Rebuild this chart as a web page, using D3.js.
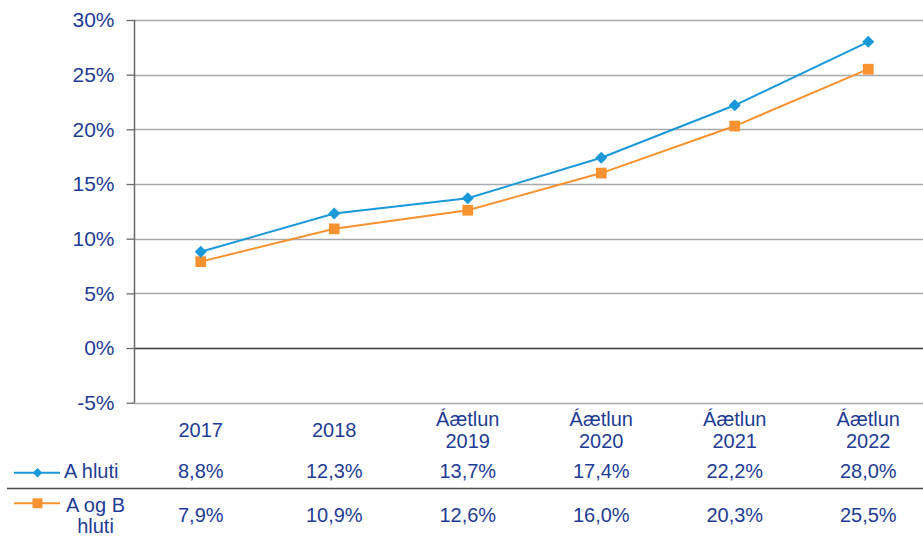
<!DOCTYPE html>
<html>
<head>
<meta charset="utf-8">
<script src="https://cdn.jsdelivr.net/npm/d3@7"></script>
<style>
  html, body { margin: 0; padding: 0; background: #ffffff; }
  svg { display: block; font-family: "Liberation Sans", Arial, sans-serif; }
</style>
</head>
<body>
<svg id="chart" width="923" height="537"></svg>
<script>
// ---- data ----
const categories = [["2017"], ["2018"], ["Áætlun", "2019"], ["Áætlun", "2020"], ["Áætlun", "2021"], ["Áætlun", "2022"]];
const seriesNames = [["A hluti"], ["A og B", "hluti"]];
const seriesA = [8.8, 12.3, 13.7, 17.4, 22.2, 28.0];
const seriesAB = [7.9, 10.9, 12.6, 16.0, 20.3, 25.5];
const labelsA = ["8,8%", "12,3%", "13,7%", "17,4%", "22,2%", "28,0%"];
const labelsAB = ["7,9%", "10,9%", "12,6%", "16,0%", "20,3%", "25,5%"];
const yTicks = [-5, 0, 5, 10, 15, 20, 25, 30];

const textColor = "#1f3c94";
const colA = "#1a98d8";
const colAB = "#f6922f";

const svg = d3.select("#chart");
const catKeys = categories.map((c, i) => i);

const x = d3.scaleBand().domain(catKeys).range([134, 935]).padding(0);
const y = d3.scaleLinear().domain([-5, 30]).range([402.7, 20]);
const cx = i => x(i) + x.bandwidth() / 2;

// gridlines
svg.append("g").selectAll("line").data(yTicks).join("line")
  .attr("x1", 134).attr("x2", 923)
  .attr("y1", d => Math.round(y(d)) + 0.5).attr("y2", d => Math.round(y(d)) + 0.5)
  .attr("stroke", d => d === 0 ? "#3a3a3a" : "#a9a9a9")
  .attr("stroke-width", 1.3);

// y axis
const yAxis = d3.axisLeft(y).tickValues(yTicks).tickSize(8).tickPadding(12)
  .tickFormat(d => d + "%");
const gy = svg.append("g").attr("transform", "translate(134.5,0)").call(yAxis);
gy.select(".domain").attr("stroke", "#6a6a6a").attr("stroke-width", 1.5).attr("d", `M0,${y(30)}V${y(-5)}`);
gy.selectAll(".tick line").attr("stroke", "#6a6a6a").attr("stroke-width", 1.3);
gy.selectAll(".tick text").attr("fill", textColor).style("font-size", "21px")
  .style("font-family", '"Liberation Sans", Arial, sans-serif');

// lines
const line = d3.line().x((d, i) => cx(i)).y(d => y(d));
svg.append("path").datum(seriesAB).attr("d", line)
  .attr("fill", "none").attr("stroke", colAB).attr("stroke-width", 2);
svg.append("path").datum(seriesA).attr("d", line)
  .attr("fill", "none").attr("stroke", colA).attr("stroke-width", 2);

// markers
const sq = d3.symbol().type(d3.symbolSquare).size(115);
const dm = d3.symbol().type(d3.symbolSquare).size(72);
svg.append("g").selectAll("path").data(seriesAB).join("path")
  .attr("d", sq).attr("transform", (d, i) => `translate(${cx(i)},${y(d)})`)
  .attr("fill", colAB);
svg.append("g").selectAll("path").data(seriesA).join("path")
  .attr("d", dm).attr("transform", (d, i) => `translate(${cx(i)},${y(d)}) rotate(45)`)
  .attr("fill", colA);

// data table: category labels
const cat = svg.append("g").attr("fill", textColor).style("font-size", "20px").attr("text-anchor", "middle");
categories.forEach((c, i) => {
  if (c.length === 1) {
    cat.append("text").attr("x", cx(i)).attr("y", 437).text(c[0]);
  } else {
    cat.append("text").attr("x", cx(i)).attr("y", 426).text(c[0]);
    cat.append("text").attr("x", cx(i)).attr("y", 448).text(c[1]);
  }
});

// row values
const rows = svg.append("g").attr("fill", textColor).style("font-size", "20px").attr("text-anchor", "middle");
rows.selectAll("text.a").data(labelsA).join("text").attr("class", "a")
  .attr("x", (d, i) => cx(i)).attr("y", 478).text(d => d);
rows.selectAll("text.b").data(labelsAB).join("text").attr("class", "b")
  .attr("x", (d, i) => cx(i)).attr("y", 522).text(d => d);

// separator line
svg.append("line").attr("x1", 7).attr("x2", 923).attr("y1", 488.5).attr("y2", 488.5)
  .attr("stroke", "#4a4a4a").attr("stroke-width", 1.5);

// legend keys
const leg = svg.append("g");
leg.append("line").attr("x1", 14).attr("x2", 60).attr("y1", 472.7).attr("y2", 472.7)
  .attr("stroke", colA).attr("stroke-width", 2);
leg.append("path").attr("d", d3.symbol().type(d3.symbolSquare).size(46)())
  .attr("transform", "translate(37.5,472.7) rotate(45)").attr("fill", colA);
leg.append("line").attr("x1", 14).attr("x2", 60).attr("y1", 503.3).attr("y2", 503.3)
  .attr("stroke", colAB).attr("stroke-width", 2);
leg.append("path").attr("d", d3.symbol().type(d3.symbolSquare).size(100)())
  .attr("transform", "translate(37.5,503.3)").attr("fill", colAB);

leg.append("text").attr("x", 64).attr("y", 478).attr("fill", textColor).style("font-size", "20px").text(seriesNames[0][0]);
leg.append("text").attr("x", 95.5).attr("y", 512).attr("text-anchor", "middle").attr("fill", textColor).style("font-size", "20px").text(seriesNames[1][0]);
leg.append("text").attr("x", 95.5).attr("y", 533).attr("text-anchor", "middle").attr("fill", textColor).style("font-size", "20px").text(seriesNames[1][1]);
</script>
</body>
</html>
